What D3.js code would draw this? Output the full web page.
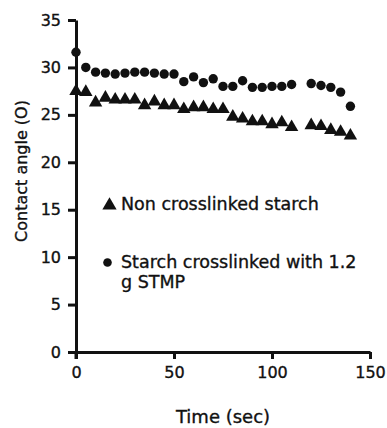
<!DOCTYPE html>
<html lang="en">
<head>
<meta charset="UTF-8">
<title>Contact angle vs time</title>
<script src="https://cdn.jsdelivr.net/npm/d3@7"></script>
<style>
  body { margin: 0; background: #fff; }
  text { font-family: "DejaVu Sans", sans-serif; fill: #111; stroke: #111; stroke-width: 0.35px; }
</style>
</head>
<body>
<svg id="chart" width="387" height="428"></svg>
<script>
// sampling times (sec); no reading at 115
var times = [0, 5, 10, 15, 20, 25, 30, 35, 40, 45, 50, 55, 60, 65, 70, 75, 80, 85, 90, 95, 100, 105, 110, 120, 125, 130, 135, 140];

// contact angle, non crosslinked starch (triangles)
var nonCrosslinked = [27.5, 27.4, 26.3, 26.8, 26.6, 26.6, 26.6, 26.0, 26.4, 26.0, 26.0, 25.6, 25.8, 25.8, 25.6, 25.6, 24.8, 24.6, 24.3, 24.3, 24.0, 24.2, 23.7, 23.9, 23.8, 23.4, 23.2, 22.8];

// contact angle, starch crosslinked with 1.2 g STMP (circles)
var crosslinked = [31.6, 30.0, 29.5, 29.4, 29.3, 29.4, 29.5, 29.5, 29.4, 29.3, 29.3, 28.5, 29.0, 28.4, 28.8, 28.0, 28.0, 28.6, 27.9, 27.9, 28.0, 28.0, 28.2, 28.3, 28.1, 27.9, 27.4, 25.9];

var xTicks = [0, 50, 100, 150];
var yTicks = [0, 5, 10, 15, 20, 25, 30, 35];
var legendLabels = ["Non crosslinked starch", "Starch crosslinked with 1.2", "g STMP"];

var svg = d3.select("#chart");

var x = d3.scaleLinear().domain([0, 150]).range([76, 370]);
var y = d3.scaleLinear().domain([0, 35]).range([352, 20]);

// axes
var xAxis = svg.append("g")
    .attr("transform", "translate(0,352)")
    .call(d3.axisBottom(x).tickValues(xTicks).tickSize(7).tickPadding(8).tickSizeOuter(0));
var yAxis = svg.append("g")
    .attr("transform", "translate(76,0)")
    .call(d3.axisLeft(y).tickValues(yTicks).tickSize(8).tickPadding(7).tickSizeOuter(0));

[xAxis, yAxis].forEach(function (ax) {
    ax.select(".domain").attr("stroke", "#111").attr("stroke-width", 3);
    ax.selectAll(".tick line").attr("stroke", "#111").attr("stroke-width", 3);
    ax.selectAll(".tick text")
        .style("font-family", "DejaVu Sans, sans-serif")
        .style("font-size", "16px")
        .attr("fill", "#111");
});

// y axis runs a little below the x axis
svg.append("line")
    .attr("x1", 76).attr("x2", 76)
    .attr("y1", 352).attr("y2", 359)
    .attr("stroke", "#111").attr("stroke-width", 3);

// axis titles
svg.append("text")
    .attr("x", 223).attr("y", 423)
    .attr("text-anchor", "middle")
    .style("font-size", "18px")
    .text("Time (sec)");

svg.append("text")
    .attr("transform", "translate(27,171) rotate(-90)")
    .attr("text-anchor", "middle")
    .style("font-size", "16px")
    .text("Contact angle (O)");

// data
var tri = d3.symbol().type(d3.symbolTriangle).size(78);

svg.append("g").selectAll("path")
    .data(times)
    .enter()
    .append("path")
    .attr("d", tri)
    .attr("transform", function (d, i) {
        return "translate(" + x(d) + "," + y(nonCrosslinked[i]) + ")";
    })
    .attr("fill", "#111");

svg.append("g").selectAll("circle")
    .data(times)
    .enter()
    .append("circle")
    .attr("cx", function (d) { return x(d); })
    .attr("cy", function (d, i) { return y(crosslinked[i]); })
    .attr("r", 4.7)
    .attr("fill", "#111");

// legend
svg.append("path")
    .attr("d", d3.symbol().type(d3.symbolTriangle).size(88)())
    .attr("transform", "translate(109.5,205.5)")
    .attr("fill", "#111");

svg.append("circle")
    .attr("cx", 107.5).attr("cy", 262.5).attr("r", 4.3)
    .attr("fill", "#111");

svg.selectAll(".legend")
    .data(legendLabels)
    .enter()
    .append("text")
    .attr("class", "legend")
    .attr("x", 121)
    .attr("y", function (d, i) { return [210, 268, 288][i]; })
    .style("font-size", "17.5px")
    .text(function (d) { return d; });
</script>
</body>
</html>
